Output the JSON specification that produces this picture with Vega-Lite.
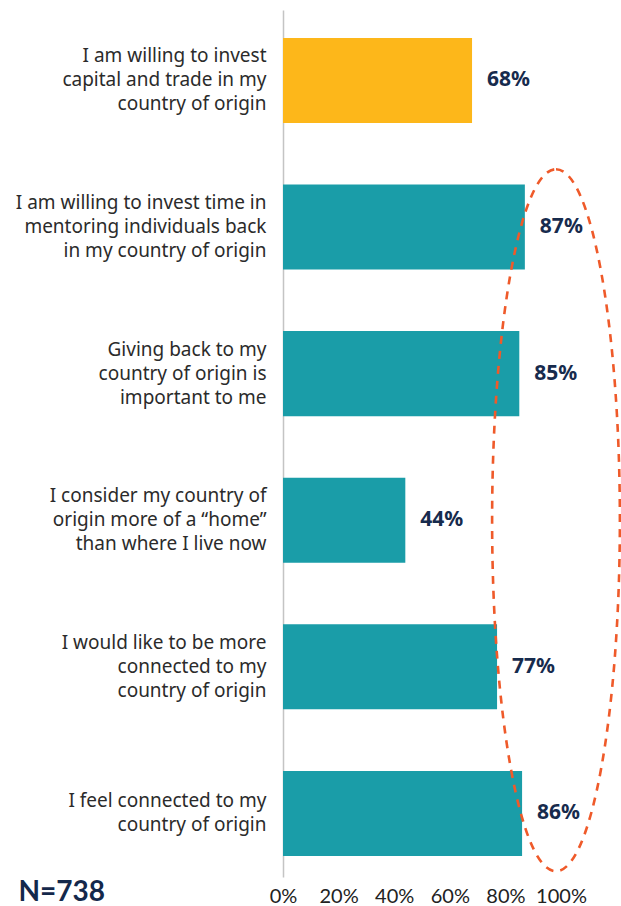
{
  "$schema": "https://vega.github.io/schema/vega-lite/v6.json",
  "width": 278,
  "height": 867,
  "autosize": {"type": "none"},
  "padding": {"left": 283, "top": 10, "right": 60, "bottom": 29},
  "background": "white",
  "config": {
    "view": {"stroke": null},
    "font": "Noto Sans"
  },
  "datasets": {
    "bars": [
      {"statement": "I am willing to invest|capital and trade in my|country of origin", "value": 0.68, "group": "capital"},
      {"statement": "I am willing to invest time in|mentoring individuals back|in my country of origin", "value": 0.87, "group": "other"},
      {"statement": "Giving back to my|country of origin is|important to me", "value": 0.85, "group": "other"},
      {"statement": "I consider my country of|origin more of a \u201chome\u201d|than where I live now", "value": 0.44, "group": "other"},
      {"statement": "I would like to be more|connected to my|country of origin", "value": 0.77, "group": "other"},
      {"statement": "I feel connected to my|country of origin", "value": 0.86, "group": "other"}
    ],
    "highlight": [
      {"statement": "I consider my country of|origin more of a \u201chome\u201d|than where I live now", "value": 0.982}
    ]
  },
  "layer": [
    {
      "data": {"name": "bars"},
      "mark": {"type": "bar"},
      "encoding": {
        "y": {
          "field": "statement",
          "type": "nominal",
          "sort": null,
          "scale": {"paddingInner": 0.42, "paddingOuter": 0.167, "align": 0.57},
          "axis": {
            "title": null,
            "labelExpr": "split(datum.label, '|')",
            "labelFont": "Noto Sans",
            "labelFontSize": 19,
            "labelLineHeight": 24,
            "labelColor": "#2b2b2b",
            "labelLimit": 320,
            "labelPadding": 17,
            "labelAlign": "right",
            "labelBaseline": "middle",
            "labelOffset": {
              "condition": {"test": "length(split(datum.value, '|')) == 2", "value": -12},
              "value": -24
            },
            "ticks": false,
            "tickSize": 0,
            "domain": true,
            "domainColor": "#c4c4c4",
            "domainWidth": 1.5,
            "grid": false
          }
        },
        "x": {
          "field": "value",
          "type": "quantitative",
          "scale": {"domain": [0, 1], "nice": false},
          "axis": {
            "format": ".0%",
            "values": [0, 0.2, 0.4, 0.6, 0.8, 1],
            "labelFont": "Lato",
            "labelFontSize": 20,
            "labelColor": "#222222",
            "labelPadding": 9,
            "labelFlush": false,
            "labelOverlap": false,
            "ticks": false,
            "tickSize": 0,
            "domain": false,
            "grid": false,
            "title": "N=738",
            "titleFont": "Lato",
            "titleFontSize": 28,
            "titleFontWeight": "bold",
            "titleColor": "#14284b",
            "titleAlign": "left",
            "titleBaseline": "alphabetic",
            "titleAnchor": "start",
            "titleX": -265,
            "titleY": 23
          }
        },
        "color": {
          "field": "group",
          "type": "nominal",
          "scale": {"domain": ["capital", "other"], "range": ["#fdb71a", "#1a9da8"]},
          "legend": null
        }
      }
    },
    {
      "data": {"name": "bars"},
      "mark": {"type": "text", "align": "left", "baseline": "middle", "dx": 15, "font": "Noto Sans", "fontSize": 21, "fontWeight": "bold", "color": "#172b4d"},
      "encoding": {
        "y": {"field": "statement", "type": "nominal", "sort": null},
        "x": {"field": "value", "type": "quantitative"},
        "text": {"field": "value", "type": "quantitative", "format": ".0%"}
      }
    },
    {
      "data": {"name": "highlight"},
      "mark": {
        "type": "point",
        "shape": "M 0 -1 C 0.1005 -1 0.182 -0.5523 0.182 0 C 0.182 0.5523 0.1005 1 0 1 C -0.1005 1 -0.182 0.5523 -0.182 0 C -0.182 -0.5523 -0.1005 -1 0 -1 Z",
        "size": 492804,
        "filled": false,
        "stroke": "#ef5a2a",
        "strokeWidth": 2.6,
        "strokeDash": [8, 7],
        "opacity": 1
      },
      "encoding": {
        "y": {"field": "statement", "type": "nominal", "sort": null},
        "x": {"field": "value", "type": "quantitative"}
      }
    }
  ]
}
